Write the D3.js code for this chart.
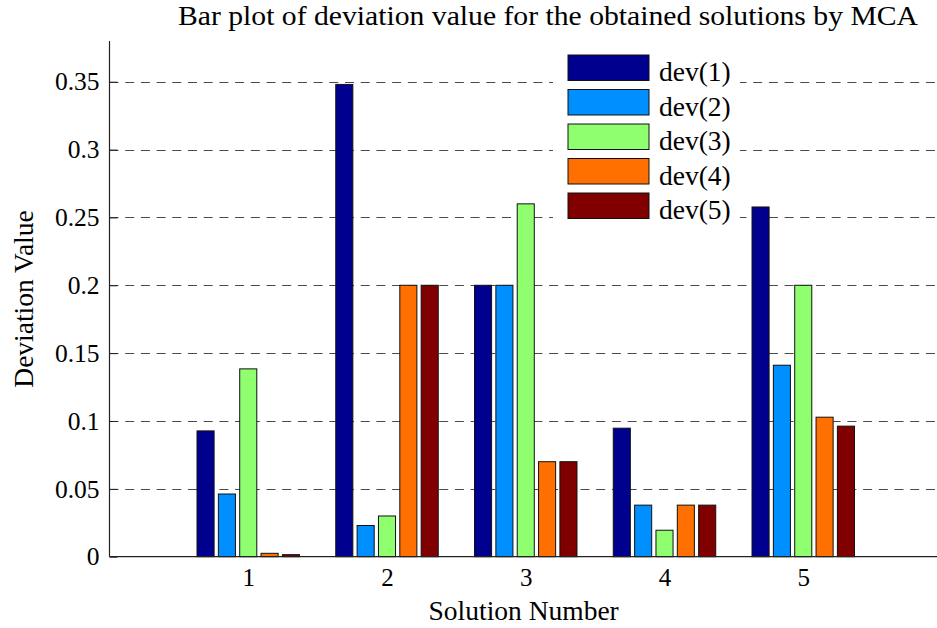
<!DOCTYPE html>
<html>
<head>
<meta charset="utf-8">
<script src="https://cdn.jsdelivr.net/npm/d3@7"></script>
<style>
  html, body { margin: 0; padding: 0; background: #fff; }
  svg { display: block; }
  text { font-family: "Liberation Serif", "Times New Roman", Times, "Nimbus Roman", Tinos, "DejaVu Serif", "Noto Serif", serif; fill: #000; }
</style>
</head>
<body>
<svg id="chart" width="937" height="628"></svg>
<script>
// Solution numbers on the x axis
const categories = [1, 2, 3, 4, 5];
// Deviation series, one value per solution
const seriesNames = ["dev(1)", "dev(2)", "dev(3)", "dev(4)", "dev(5)"];
const dev1 = [0.0927, 0.348, 0.200, 0.0947, 0.2577];
const dev2 = [0.0462, 0.023, 0.200, 0.038, 0.1411];
const dev3 = [0.1384, 0.030, 0.260, 0.0195, 0.200];
const dev4 = [0.0025, 0.200, 0.070, 0.038, 0.1028];
const dev5 = [0.0015, 0.200, 0.070, 0.038, 0.0962];
const seriesColors = ["#00008f", "#008fff", "#8fff70", "#ff7000", "#800000"];
const yTicks = [0, 0.05, 0.1, 0.15, 0.2, 0.25, 0.3, 0.35];
const yTickLabels = ["0", "0.05", "0.1", "0.15", "0.2", "0.25", "0.3", "0.35"];
const xTickLabels = ["1", "2", "3", "4", "5"];

const series = [dev1, dev2, dev3, dev4, dev5];

const svg = d3.select("#chart");
const plotLeft = 109.5, plotRight = 942, plotTop = 41, plotBottom = 556.7;

const x = d3.scaleLinear().domain([0, 6]).range([plotLeft, plotRight]);
const y = d3.scaleLinear().domain([0, 0.38]).range([plotBottom, plotTop]);

// grouped-bar geometry (same rule as MATLAB's bar: group width n/(n+1.5))
const n = series.length;
const groupWidth = Math.min(0.8, n / (n + 1.5));
const step = groupWidth / n;
const barW = x(step * 0.8) - x(0);

// dashed horizontal grid, drawn beneath the bars
svg.append("g")
  .selectAll("line")
  .data(yTicks.slice(1))
  .join("line")
  .attr("x1", plotLeft).attr("x2", 937)
  .attr("y1", d => Math.round(y(d)) + 0.5).attr("y2", d => Math.round(y(d)) + 0.5)
  .attr("stroke", "#4a4a4a")
  .attr("stroke-width", 1)
  .attr("stroke-dasharray", "9,6.7");

// inward tick marks
const yAxis = d3.axisLeft(y).tickValues(yTicks).tickSize(-8).tickFormat((d, i) => yTickLabels[i]).tickPadding(10);
const gy = svg.append("g").attr("transform", `translate(${plotLeft},0)`).call(yAxis);
gy.attr("font-family", null);
gy.select(".domain").remove();
gy.selectAll(".tick line").attr("stroke", "#222");
gy.selectAll(".tick text").attr("font-size", 25.5).attr("fill", "#000");

const xAxis = d3.axisBottom(x).tickValues(categories).tickSize(-8).tickFormat((d, i) => xTickLabels[i]).tickPadding(12);
const gx = svg.append("g").attr("transform", `translate(0,${plotBottom})`).call(xAxis);
gx.attr("font-family", null);
gx.select(".domain").remove();
gx.selectAll(".tick line").attr("stroke", "#222");
gx.selectAll(".tick text").attr("font-size", 25).attr("fill", "#000");

// bars
series.forEach((vals, si) => {
  svg.append("g")
    .selectAll("rect")
    .data(vals.map((v, ci) => ({ v, c: categories[ci] })))
    .join("rect")
    .attr("x", d => x(d.c + (si - (n - 1) / 2) * step) - barW / 2)
    .attr("y", d => y(d.v))
    .attr("width", barW)
    .attr("height", d => y(0) - y(d.v))
    .attr("fill", seriesColors[si])
    .attr("stroke", "#111")
    .attr("stroke-width", 1);
});

// axis lines
svg.append("line").attr("x1", plotLeft).attr("x2", plotLeft).attr("y1", plotTop).attr("y2", plotBottom)
  .attr("stroke", "#222").attr("stroke-width", 1.2);
svg.append("line").attr("x1", plotLeft).attr("x2", 937).attr("y1", plotBottom).attr("y2", plotBottom)
  .attr("stroke", "#222").attr("stroke-width", 1.2);

// legend
const legend = svg.append("g");
legend.append("rect").attr("x", 553).attr("y", 47).attr("width", 187).attr("height", 180).attr("fill", "#fff");
seriesNames.forEach((name, i) => {
  const ty = 55 + i * 34.5;
  legend.append("rect").attr("x", 568).attr("y", ty).attr("width", 81).attr("height", 25.5)
    .attr("fill", seriesColors[i]).attr("stroke", "#111").attr("stroke-width", 1);
  legend.append("text").attr("x", 659).attr("y", ty + 26).attr("font-size", 27.5).text(name);
});

// titles
svg.append("text").attr("x", 548).attr("y", 25).attr("text-anchor", "middle").attr("font-size", 26.5)
  .attr("textLength", 740).attr("lengthAdjust", "spacingAndGlyphs")
  .text("Bar plot of deviation value for the obtained solutions by MCA");
svg.append("text").attr("x", 523.7).attr("y", 620).attr("text-anchor", "middle").attr("font-size", 27.5)
  .text("Solution Number");
svg.append("text").attr("transform", "translate(33,299) rotate(-90)").attr("text-anchor", "middle").attr("font-size", 27.5)
  .text("Deviation Value");
</script>
</body>
</html>
